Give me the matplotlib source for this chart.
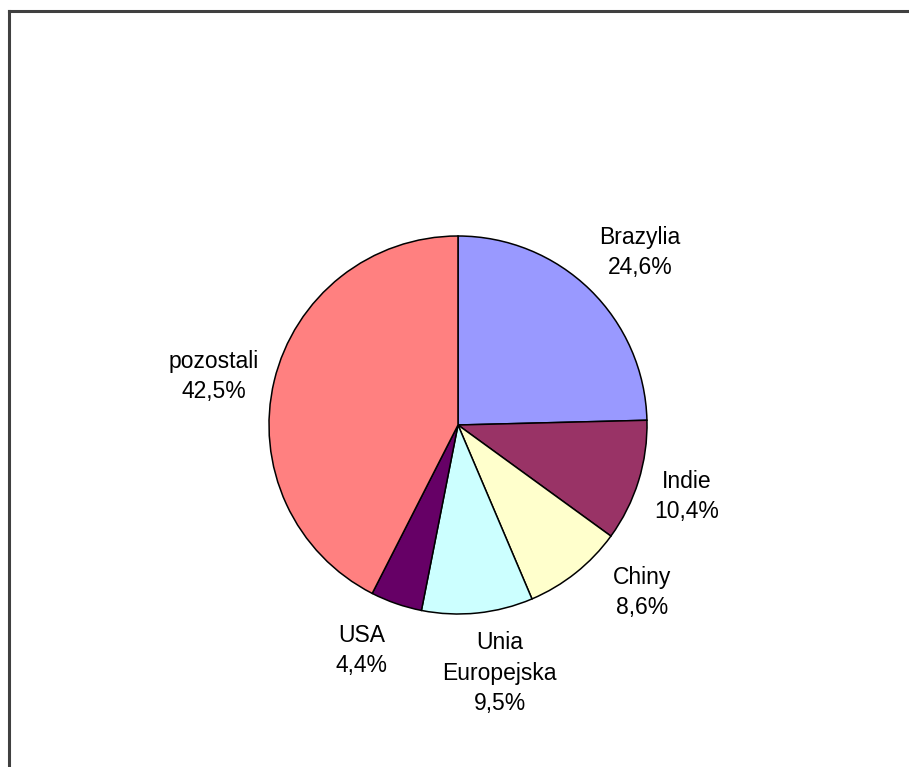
import matplotlib.pyplot as plt
from matplotlib.lines import Line2D

# data
labels = ["Brazylia", "Indie", "Chiny", "Unia\nEuropejska", "USA", "pozostali"]
shares = [24.6, 10.4, 8.6, 9.5, 4.4, 42.5]
colors = ["#9999FF", "#993366", "#FFFFCC", "#CCFFFF", "#660066", "#FF8080"]

# small nudges (px, right / down) so labels sit like Excel puts them
nudge = [(8, 6), (-10, -3), (29, -28), (16, 0), (-15, -10), (-2, 10)]

W, H = 909, 767
fig = plt.figure(figsize=(W / 100, H / 100), dpi=100)
ax = fig.add_axes([0, 0, 1, 1])

# pie centre / radius in pixels
cx, cy, r = 458, H - 425, 189

pct_labels = [l + "\n" + ("%.1f%%" % v).replace(".", ",") for l, v in zip(labels, shares)]

wedges, texts = ax.pie(
    shares, colors=colors, labels=pct_labels, startangle=90, counterclock=False,
    center=(cx, cy), radius=r, labeldistance=1.32,
    wedgeprops=dict(edgecolor="black", linewidth=1.1),
    textprops=dict(fontsize=16.5, family="Liberation Sans", color="black"),
    frame=True,
)
for t, (dx, dy) in zip(texts, nudge):
    x, y = t.get_position()
    t.set_position((x + dx, y - dy))
    t.set_ha("center")
    t.set_va("center")
    t.set_linespacing(1.4)
ax.set_xlim(0, W)
ax.set_ylim(0, H)
ax.set_aspect("equal")
ax.axis("off")

# chart area border (only left and top visible)
fig.add_artist(Line2D([9 / W, 9 / W], [0, 1 - 11 / H], color="#404040", lw=2.2))
fig.add_artist(Line2D([9 / W, 1], [1 - 11 / H, 1 - 11 / H], color="#404040", lw=2.2))

fig.savefig("out.png", dpi=100)
